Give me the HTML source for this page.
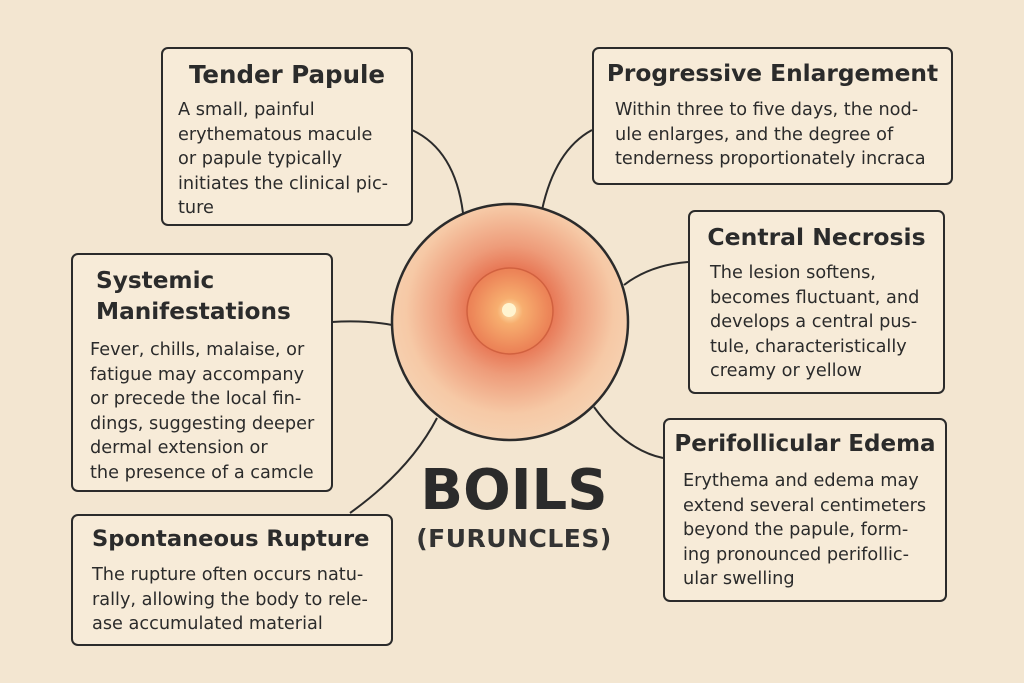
<!DOCTYPE html>
<html><head><meta charset="utf-8"><style>
body{margin:0;width:1024px;height:683px;background:#f3e6d1;font-family:"DejaVu Sans","Liberation Sans",sans-serif;color:#2b2b2b;overflow:hidden;position:relative}
.b{position:absolute;border:2px solid #2b2b2b;border-radius:7px;background:#f7ebd8;box-sizing:border-box}
.t{position:absolute;font-weight:bold;font-size:23px;white-space:nowrap}
.p{position:absolute;font-size:17.7px;line-height:24.5px;white-space:nowrap}
</style></head><body>
<svg width="1024" height="683" style="position:absolute;left:0;top:0">
<defs><radialGradient id="g" cx="50%" cy="45%" r="55%">
<stop offset="0" stop-color="#f59a66"/><stop offset="0.28" stop-color="#e66e4c"/><stop offset="0.5" stop-color="#ee9c7a"/><stop offset="0.8" stop-color="#f6c9a6"/><stop offset="1" stop-color="#f5d2b2"/></radialGradient>
<radialGradient id="c" cx="50%" cy="50%" r="50%"><stop offset="0" stop-color="#fff2c0"/><stop offset="0.3" stop-color="#f8b070"/><stop offset="1" stop-color="#ec8156"/></radialGradient></defs>
<g fill="none" stroke="#2b2b2b" stroke-width="2">
<path d="M412,130 Q455,150 463,213"/>
<path d="M592,130 Q555,150 542,210"/>
<path d="M688,262 Q650,265 624,285"/>
<path d="M332,322 Q365,320 392,325"/>
<path d="M663,458 Q625,450 594,407"/>
<path d="M350,513 Q410,470 437,418"/>
</g>
<circle cx="510" cy="322" r="118" fill="url(#g)" stroke="#2b2b2b" stroke-width="2.5"/>
<circle cx="510" cy="311" r="43" fill="url(#c)" stroke="#d0603e" stroke-width="1.5" opacity="0.95"/>
<circle cx="509" cy="310" r="7" fill="#fff4d0"/>
</svg>
<div class="b" style="left:161px;top:47px;width:252px;height:179px"></div>
<div class="t" style="left:161px;width:252px;text-align:center;top:60px;font-size:24.5px">Tender Papule</div>
<div class="p" style="left:178px;top:98px">A small, painful<br>erythematous macule<br>or papule typically<br>initiates the clinical pic-<br>ture</div>

<div class="b" style="left:592px;top:47px;width:361px;height:138px"></div>
<div class="t" style="left:592px;width:361px;text-align:center;top:60px;font-size:23.3px">Progressive Enlargement</div>
<div class="p" style="left:615px;top:98px">Within three to five days, the nod-<br>ule enlarges, and the degree of<br>tenderness proportionately incraca</div>

<div class="b" style="left:688px;top:210px;width:257px;height:184px"></div>
<div class="t" style="left:688px;width:257px;text-align:center;top:223px;font-size:23.5px">Central Necrosis</div>
<div class="p" style="left:710px;top:261px">The lesion softens,<br>becomes fluctuant, and<br>develops a central pus-<br>tule, characteristically<br>creamy or yellow</div>

<div class="b" style="left:71px;top:253px;width:262px;height:239px"></div>
<div class="t" style="left:96px;top:265px;font-size:23.2px;line-height:31px">Systemic<br>Manifestations</div>
<div class="p" style="left:90px;top:338px">Fever, chills, malaise, or<br>fatigue may accompany<br>or precede the local fin-<br>dings, suggesting deeper<br>dermal extension or<br>the presence of a camcle</div>

<div class="b" style="left:663px;top:418px;width:284px;height:184px"></div>
<div class="t" style="left:663px;width:284px;text-align:center;top:431px;font-size:23px">Perifollicular Edema</div>
<div class="p" style="left:683px;top:469px">Erythema and edema may<br>extend several centimeters<br>beyond the papule, form-<br>ing pronounced perifollic-<br>ular swelling</div>

<div class="b" style="left:71px;top:514px;width:322px;height:132px"></div>
<div class="t" style="left:92px;top:526px;font-size:22.6px">Spontaneous Rupture</div>
<div class="p" style="left:92px;top:563px">The rupture often occurs natu-<br>rally, allowing the body to rele-<br>ase accumulated material</div>

<div style="position:absolute;left:384px;width:260px;text-align:center;top:458px;font-size:56px;font-weight:bold;line-height:66px;color:#2b2b2b">BOILS</div>
<div style="position:absolute;left:384px;width:260px;text-align:center;top:524px;font-size:25px;font-weight:bold;color:#333;letter-spacing:0.5px">(FURUNCLES)</div>
</body></html>
